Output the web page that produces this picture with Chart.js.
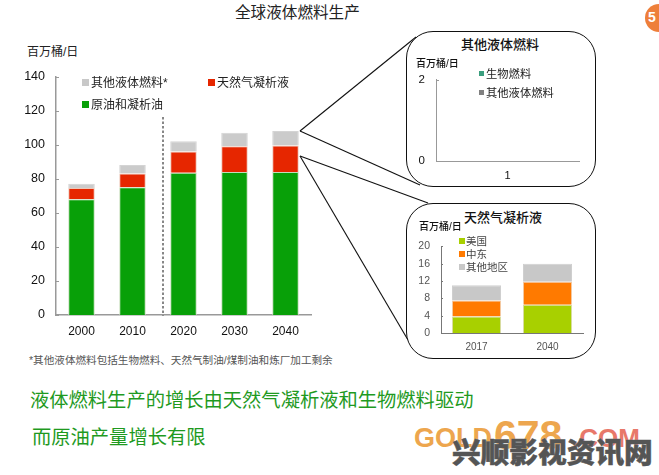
<!DOCTYPE html>
<html><head><meta charset="utf-8">
<script src="https://cdn.jsdelivr.net/npm/chart.js@4"></script>
<style>
html,body{margin:0;padding:0;background:#fff;overflow:hidden}
body{width:659px;height:475px;position:relative;font-family:"Liberation Sans","Noto Sans CJK SC",sans-serif;color:#111}
.t{position:absolute;white-space:nowrap;line-height:1}
.s{position:absolute;width:8px;height:8px}
canvas{position:absolute}
.bubble{position:absolute;border:1.3px solid #111;border-radius:27px;background:#fff;box-sizing:border-box}
svg{position:absolute;left:0;top:0}
</style></head><body>
<svg width="659" height="475" id="lines">
<line x1="300" y1="131" x2="416" y2="37" stroke="#111" stroke-width="1.1"/>
<line x1="300" y1="131" x2="420" y2="185" stroke="#111" stroke-width="1.1"/>
<line x1="300" y1="156" x2="428" y2="203" stroke="#111" stroke-width="1.1"/>
<line x1="300" y1="156" x2="408" y2="340" stroke="#111" stroke-width="1.1"/>
<line x1="163" y1="117" x2="163" y2="316" stroke="#111" stroke-width="1" stroke-dasharray="2.5 2"/>
</svg>
<div class="bubble" style="left:406px;top:31px;width:190px;height:156px"></div>
<div class="bubble" style="left:406px;top:203px;width:190px;height:156px"></div>
<canvas id="main" style="left:0;top:66px"></canvas>
<canvas id="inset1" style="left:400px;top:70px"></canvas>
<canvas id="inset2" style="left:405px;top:237px"></canvas>
<div id="texts"></div>
<script>
const mainYears = ['2000','2010','2020','2030','2040'];
const crudeOil = [68,75,83.5,84,84];
const ngl = [6.5,8,12.5,15,15.5];
const otherLiquids = [2.5,5,6,8,8.5];
const mainTicks = [0,20,40,60,80,100,120,140];

const inset1Cats = ['1'];
const biofuels = [null];
const otherFuels = [null];

const inset2Years = ['2017','2040'];
const usNgl = [3.8,6.5];
const middleEastNgl = [3.7,5.3];
const otherRegionsNgl = [3.5,4.2];

const inwardTicks = {id:'inwardTicks',afterDraw(c,_,o){
  const s=c.scales.y,g=c.ctx;g.save();g.strokeStyle=o.color;g.lineWidth=1;
  s.ticks.forEach(t=>{const p=Math.round(s.getPixelForValue(t.value))+.5;
    g.beginPath();g.moveTo(s.right,p);g.lineTo(s.right+o.len,p);g.stroke();});
  g.restore();}};

function make(id,w,h,left,top,axisH,labels,datasets,o){
  const cv=document.getElementById(id);cv.width=w;cv.height=h;cv.style.width=w+'px';cv.style.height=h+'px';
  return new Chart(cv,{type:'bar',plugins:[inwardTicks],data:{labels,datasets:datasets.map(d=>({
      label:d.label,data:d.data,backgroundColor:d.color,borderColor:d.edge,borderWidth:o.edgeW,
      categoryPercentage:1,barPercentage:o.bar}))},
    options:{responsive:false,animation:false,
      layout:{padding:{top:top,right:w-left-o.axisW,left:0,bottom:0}},
      plugins:{legend:{display:false},tooltip:{enabled:false},title:{display:false},inwardTicks:{color:o.axis,len:o.tick}},
      scales:{
        x:{stacked:true,grid:{display:false},border:{color:o.axis,width:o.bw},afterFit:s=>{s.height=axisH},
           ticks:{color:o.xc,font:{size:o.xs,family:'"Liberation Sans"'},padding:o.xp,maxRotation:0}},
        y:{stacked:true,min:0,max:o.max,afterFit:s=>{s.width=left},grid:{display:false},border:{color:o.axis,width:o.bw},
           afterBuildTicks:s=>{s.ticks=o.ticks.map(v=>({value:v}))},
           ticks:{color:o.yc,font:{size:o.ys,family:'"Liberation Sans"'},padding:o.yp}}
      }}});
}

make('main',330,280,56,10,31,mainYears,[
  {label:'原油和凝析油',data:crudeOil,color:'#08a008',edge:'#c4dcb8'},
  {label:'天然气凝析液',data:ngl,color:'#e62600',edge:'#eec8b8'},
  {label:'其他液体燃料*',data:otherLiquids,color:'#cbcbcb',edge:'#d4d4d4'}
],{axisW:255,bar:.52,edgeW:1,max:140,ticks:mainTicks,axis:'#999',bw:1.5,tick:3,xc:'#111',xs:12,xp:1,yc:'#111',ys:12.5,yp:3});

make('inset1',195,119,36,8,28,inset1Cats,[
  {label:'生物燃料',data:biofuels,color:'#3a9e7e',edge:'#3a9e7e'},
  {label:'其他液体燃料',data:otherFuels,color:'#808080',edge:'#808080'}
],{axisW:143,bar:.5,edgeW:0,max:2,ticks:[0,2],axis:'#999',bw:1,tick:3,xc:'#111',xs:11,xp:0,yc:'#111',ys:11.5,yp:3});

make('inset2',185,121,36,8,25,inset2Years,[
  {label:'美国',data:usNgl,color:'#a8d000',edge:'#d8dca0'},
  {label:'中东',data:middleEastNgl,color:'#ff7a00',edge:'#f4c8a0'},
  {label:'其他地区',data:otherRegionsNgl,color:'#c8c8c8',edge:'#cfcfcf'}
],{axisW:142,bar:.69,edgeW:1,max:20,ticks:[0,4,8,12,16,20],axis:'#777',bw:1,tick:2,xc:'#555',xs:10,xp:0,yc:'#555',ys:10.5,yp:3});

const host=document.getElementById('texts');
function T(s,x,y,size,color,extra){const d=document.createElement('div');d.className='t';d.textContent=s;
  d.style.cssText=`left:${x}px;top:${y}px;font-size:${size}px;color:${color};`+(extra||'');host.appendChild(d);return d}
function S(x,y,c,w){const d=document.createElement('div');d.className='s';d.style.cssText=`left:${x}px;top:${y}px;background:${c};width:${w}px;height:${w}px`;host.appendChild(d)}

T('全球液体燃料生产',235,5,15.6,'#222');
T('百万桶/日',27,46,12,'#222');
S(82,79,'#c8c8c8',7);T('其他液体燃料*',91,77,12,'#222');
S(208,79,'#e62600',7);T('天然气凝析液',217,77,12,'#222');
S(82,101,'#08a008',7);T('原油和凝析油',91,99,12,'#222');
T('*其他液体燃料包括生物燃料、天然气制油/煤制油和炼厂加工剩余',29,355,10.6,'#555');

T('其他液体燃料',461,38,13,'#111','font-weight:500');
T('百万桶/日',416,59,10,'#111','font-weight:500');
S(479,71,'#3a9e7e',5);T('生物燃料',486,69,11.3,'#222');
S(479,90,'#808080',5);T('其他液体燃料',486,88,11.3,'#222');

T('天然气凝析液',464,211,13,'#111','font-weight:500');
T('百万桶/日',419,222,10,'#111','font-weight:500');
S(459,238,'#a8d000',6);T('美国',466,236,10.5,'#444');
S(459,251,'#ff7a00',6);T('中东',466,249,10.5,'#444');
S(459,264,'#c8c8c8',6);T('其他地区',466,262,10.5,'#444');

T('液体燃料生产的增长由天然气凝析液和生物燃料驱动',30,391,19.3,'#1f9a1f');
T('而原油产量增长有限',32,428,19.3,'#1f9a1f');

T('GOLD',414,425,27,'#eda64e','font-weight:700');
T('678',494,415,41,'#eda64e','font-weight:700');
T('.COM',572,425,26,'#e8786a','font-weight:700');
T('兴顺影视资讯网',452,439,28.7,'#555','font-weight:900;-webkit-text-stroke:.5px #555;text-shadow:0 0 1px #fff');

const logo=document.createElement('div');
logo.style.cssText='position:absolute;left:645px;top:4px;width:28px;height:28px;border-radius:50%;background:#ee7f3a';
host.appendChild(logo);
T('5',648,10,14,'#fff','font-weight:700');
</script>
</body></html>
